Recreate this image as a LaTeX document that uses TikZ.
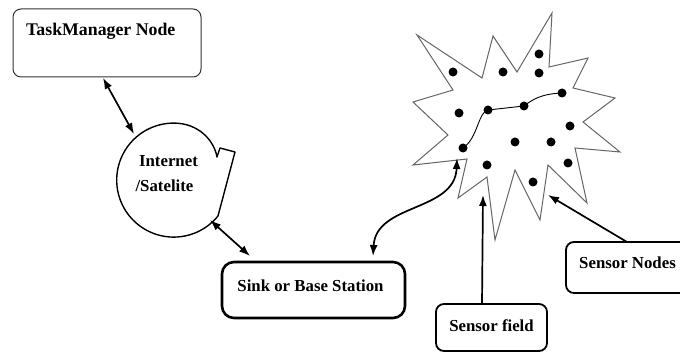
\documentclass[tikz,border=0pt]{standalone}
\usepackage{fontspec}
\setmainfont{Liberation Serif}
\usetikzlibrary{arrows.meta}
\begin{document}
\begin{tikzpicture}[x=1pt,y=-1pt,
  lbl/.style={font=\bfseries\fontsize{16.8}{18}\selectfont, inner sep=0pt, anchor=base},
  boxbase/.style={draw, inner sep=0pt, outer sep=0pt},
  tmbox/.style={boxbase, draw=black!80, line width=1pt, rounded corners=8pt},
  sinkbox/.style={boxbase, line width=2.6pt, rounded corners=12pt},
  sbox/.style={boxbase, line width=1.8pt, rounded corners=8pt},
  link/.style={line width=1.7pt, {Latex[length=11pt,width=8pt]}-{Latex[length=11pt,width=8pt]}},
  pointer/.style={line width=1.7pt, -{Latex[length=11pt,width=8pt]}},
  burst/.style={draw=black!60, line width=1pt, line join=miter},
  sensor/.style={fill=black},
  route/.style={line width=0.9pt}
]
\clip (0,0) rectangle (680,352);
\fill[white] (0,0) rectangle (680,352);

% Task manager
\node[tmbox, minimum width=188pt, minimum height=68pt] (tm) at (107,43) {};
\node[lbl, anchor=base west, font=\bfseries\fontsize{17.8}{19}\selectfont] (tmlabel) at (26,36) {TaskManager Node};

% Internet / Satelite callout
\draw[line width=1.4pt, line join=round]
  plot[domain=39:270, samples=80] ({173.7+57*cos(\x)},{180.1+57*sin(\x)})
  .. controls (198,123) and (214,140) .. (217,157)
  -- (220,148) -- (235,152) -- cycle;
\coordinate (inet) at (174,180);
\node[lbl] (inetlabel1) at (168.5,167) {Internet};
\node[lbl] (inetlabel2) at (164.5,192) {/Satelite};

% Sink
\node[sinkbox, minimum width=183pt, minimum height=56pt] (sink) at (313.5,290) {};
\node[lbl] (sinklabel) at (310.5,292) {Sink or Base Station};

% Sensor boxes
\node[sbox, minimum width=124pt, minimum height=51pt] (snodes) at (628,267.5) {};
\node[lbl] (snodeslabel) at (627.5,269) {Sensor Nodes};
\node[sbox, minimum width=111pt, minimum height=47pt] (sfield) at (491.5,327.5) {};
\node[lbl] (sfieldlabel) at (491.5,332) {Sensor field};

% Sensor field outline (starburst)
\draw[burst] (417,35) -- (482,78) -- (493,36) -- (517,72) -- (552,13) -- (549,67)
  -- (588,58) -- (573,88) -- (615,98) -- (583,122) -- (620,152) -- (575,148)
  -- (587,203) -- (548,165) -- (540,220) -- (515,170) -- (495,240) -- (487,177)
  -- (458,198) -- (467,159) -- (413,165) -- (448,135) -- (413,102) -- (453,90) -- cycle;

% Sensor nodes
\foreach \px/\py in {453/72, 503/72, 539/54, 539/73, 459/113, 488/110, 524/106,
  562/93, 570/126, 515/142, 551/142, 463/148, 487/165, 533/182, 568/163}
  \fill[sensor] (\px,\py) circle[radius=4.5];

% Route through the field
\draw[route] (463,148) .. controls (478,138) and (478,112) .. (488,110)
  -- (524,106) .. controls (532,100) and (540,94) .. (562,93);

% Connectors
\coordinate (tmB) at (103,78);
\coordinate (inetT) at (134,134);
\coordinate (inetB) at (210,220);
\coordinate (sinkT) at (250,256);
\coordinate (sinkR) at (373,256);
\coordinate (fieldL) at (457,158);
\coordinate (fieldB) at (483,195);
\coordinate (fieldR) at (548,195);
\coordinate (sfieldT) at (482,304);
\coordinate (snodesT) at (627,242);

\draw[link] (tmB) -- (inetT);
\draw[link] (inetB) -- (sinkT);
\draw[link] (sinkR) .. controls (376,203) and (455,212) .. (fieldL);
\draw[pointer] (sfieldT) -- (fieldB);
\draw[pointer] (snodesT) -- (fieldR);
\end{tikzpicture}
\end{document}
